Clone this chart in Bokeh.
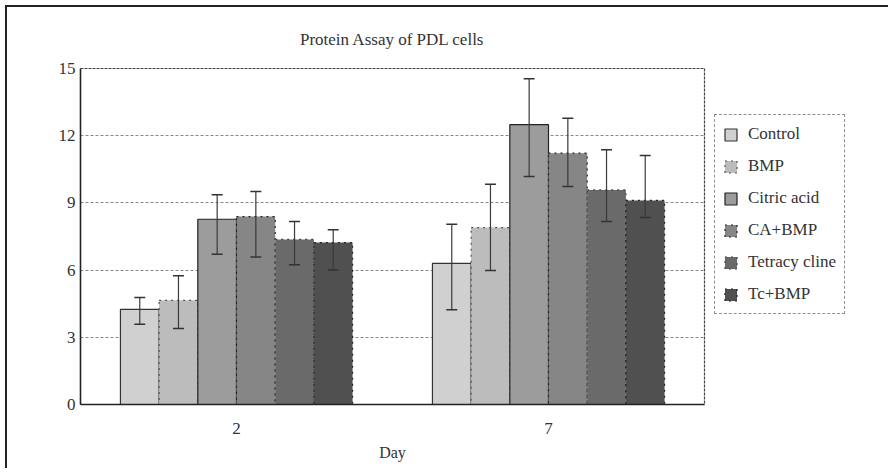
from bokeh.plotting import figure
from bokeh.models import ColumnDataSource, Whisker, TeeHead, Legend, LegendItem, FactorRange
from bokeh.transform import dodge
from bokeh.embed import file_html
from bokeh.resources import INLINE

days = ["2", "7"]
groups = ["Control", "BMP", "Citric acid", "CA+BMP", "Tetracy cline", "Tc+BMP"]
control = [4.25, 6.3]
bmp = [4.65, 7.9]
citric = [8.27, 12.49]
ca_bmp = [8.39, 11.22]
tetra = [7.37, 9.58]
tc_bmp = [7.23, 9.11]
control_hi = [4.78, 8.05]
control_lo = [3.58, 4.23]
bmp_hi = [5.75, 9.83]
bmp_lo = [3.39, 5.98]
citric_hi = [9.36, 14.54]
citric_lo = [6.71, 10.18]
ca_bmp_hi = [9.51, 12.78]
ca_bmp_lo = [6.59, 9.73]
tetra_hi = [8.17, 11.37]
tetra_lo = [6.24, 8.17]
tc_bmp_hi = [7.8, 11.12]
tc_bmp_lo = [6.01, 8.35]
y_ticks = [0, 3, 6, 9, 12, 15]

means = [control, bmp, citric, ca_bmp, tetra, tc_bmp]
highs = [control_hi, bmp_hi, citric_hi, ca_bmp_hi, tetra_hi, tc_bmp_hi]
lows = [control_lo, bmp_lo, citric_lo, ca_bmp_lo, tetra_lo, tc_bmp_lo]
fills = ["#d0d0d0", "#bcbcbc", "#9c9c9c", "#868686", "#6a6a6a", "#505050"]
outlines = ["#333333", "#555555", "#222222", "#222222", "#444444", "#222222"]
dashes = ["solid", "dotted", "solid", "dotted", "dotted", "dotted"]

FONT = "Liberation Serif"

p = figure(frame_width=624, frame_height=336, x_range=FactorRange(factors=days, range_padding=0),
           y_range=(0, 15), output_backend="svg", toolbar_location=None,
           min_border_left=73, min_border_right=0, min_border_top=60, min_border_bottom=64,
           title="Protein Assay of PDL cells")
p.styles = {"border-left": "2px solid #222222", "border-top": "2px solid #222222",
            "margin-left": "5px", "margin-top": "5px"}

p.title.align = "center"
p.title.text_font = FONT
p.title.text_font_style = "normal"
p.title.text_font_size = "17px"
p.title.text_color = "#333333"
p.title.standoff = 40

bw = 0.124
items = []
for i, g in enumerate(groups):
    off = (i - 2.5) * bw
    src = ColumnDataSource(dict(day=days, top=means[i], upper=highs[i], lower=lows[i]))
    r = p.vbar(x=dodge("day", off, range=p.x_range), top="top", width=bw, source=src,
               fill_color=fills[i], line_color=outlines[i], line_width=1.2,
               line_dash=dashes[i])
    items.append(LegendItem(label=g, renderers=[r]))
    w = Whisker(source=src, base=dodge("day", off, range=p.x_range), upper="upper", lower="lower",
                line_color="#3a3a3a", line_width=1.2, level="overlay",
                upper_head=TeeHead(size=11, line_color="#333333", line_width=1.5),
                lower_head=TeeHead(size=11, line_color="#333333", line_width=1.5))
    p.add_layout(w)

legend = Legend(items=items, location=(10, 90), label_text_font=FONT,
                label_text_font_size="17px", label_text_color="#333333",
                glyph_width=15, glyph_height=15, label_height=22, label_standoff=10,
                spacing=10, padding=8, margin=0,
                border_line_color="#222222", border_line_dash="3 1", border_line_width=1.2,
                background_fill_color="white", background_fill_alpha=1)
p.add_layout(legend, "right")

p.xgrid.visible = False
p.ygrid.ticker = y_ticks
p.ygrid.grid_line_color = "#888888"
p.ygrid.grid_line_dash = "3 2"
p.yaxis.ticker = y_ticks
p.outline_line_color = "#444444"
p.outline_line_dash = "3 1"
p.outline_line_width = 1.2

for ax in (p.xaxis[0], p.yaxis[0]):
    ax.axis_line_color = "#222222"
    ax.axis_line_width = 1.5
    ax.major_tick_out = 0
    ax.major_tick_in = 0
    ax.minor_tick_out = 0
    ax.minor_tick_in = 0
    ax.major_label_text_font = FONT
    ax.major_label_text_font_size = "17px"
    ax.major_label_text_color = "#333333"

p.yaxis.major_label_standoff = 5
p.xaxis.major_label_standoff = 18
p.xaxis.axis_label = "Day"
p.xaxis.axis_label_text_font = FONT
p.xaxis.axis_label_text_font_style = "normal"
p.xaxis.axis_label_text_font_size = "16px"
p.xaxis.axis_label_text_color = "#333333"
p.xaxis.axis_label_standoff = 7

open("out.html", "w").write(file_html(p, INLINE))
